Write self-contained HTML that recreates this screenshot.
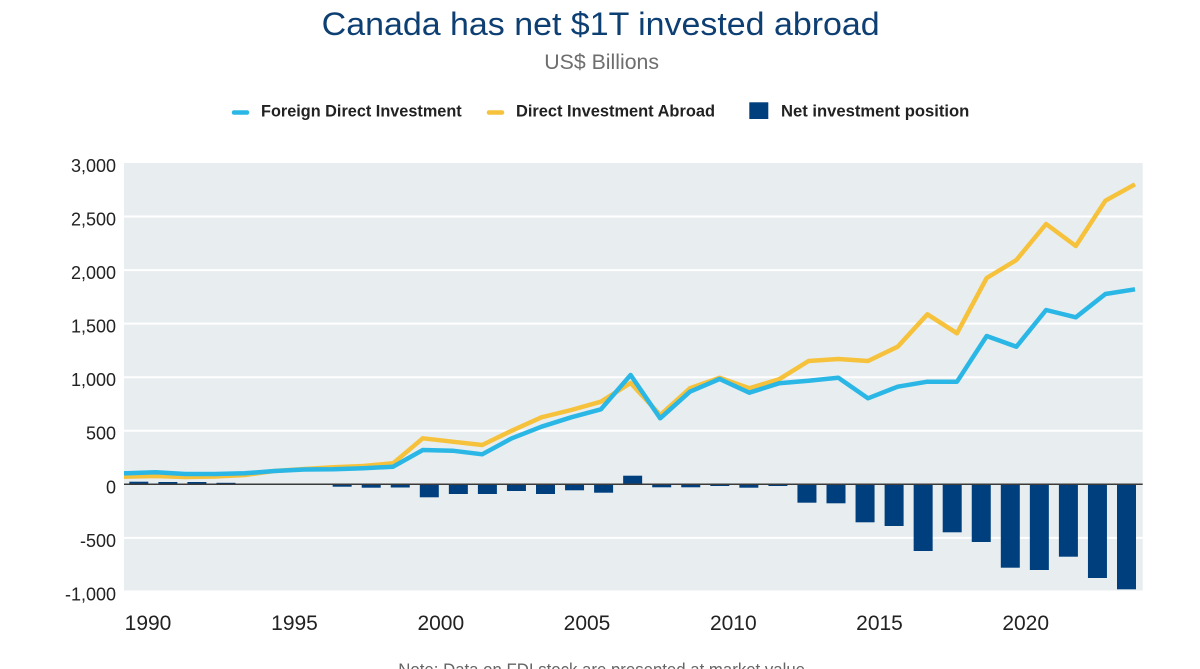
<!DOCTYPE html>
<html>
<head>
<meta charset="utf-8">
<style>
html,body{margin:0;padding:0;background:#fff;}
svg{display:block;}
text{font-family:"Liberation Sans",sans-serif;}
</style>
</head>
<body>
<svg width="1200" height="669" viewBox="0 0 1200 669" xmlns="http://www.w3.org/2000/svg">
  <rect x="0" y="0" width="1200" height="669" fill="#ffffff"/>
  <!-- Title -->
  <text x="321.7" y="35" font-size="32" fill="#0e3f73" textLength="558" lengthAdjust="spacingAndGlyphs">Canada has net $1T invested abroad</text>
  <text x="544.3" y="69" font-size="21" fill="#6e6e6e" textLength="114.7" lengthAdjust="spacingAndGlyphs">US$ Billions</text>

  <!-- Legend -->
  <line x1="234" y1="112.5" x2="247" y2="112.5" stroke="#2bb7e5" stroke-width="4.5" stroke-linecap="round"/>
  <text x="261" y="116.7" font-size="16.5" font-weight="bold" fill="#222" textLength="200.7" lengthAdjust="spacingAndGlyphs">Foreign Direct Investment</text>
  <line x1="489" y1="112.5" x2="502" y2="112.5" stroke="#f6c23c" stroke-width="4.5" stroke-linecap="round"/>
  <text x="516" y="116.7" font-size="16.5" font-weight="bold" fill="#222" textLength="199" lengthAdjust="spacingAndGlyphs">Direct Investment Abroad</text>
  <rect x="749.3" y="102.3" width="19" height="16.7" fill="#003f7d"/>
  <text x="781" y="116.7" font-size="16.5" font-weight="bold" fill="#222" textLength="188.3" lengthAdjust="spacingAndGlyphs">Net investment position</text>

  <!-- Plot area -->
  <rect x="124" y="163" width="1018.7" height="427.5" fill="#e8edf0"/>
  <g stroke="#ffffff" stroke-width="2">
    <line x1="124" y1="216.5" x2="1142.7" y2="216.5"/>
    <line x1="124" y1="270.1" x2="1142.7" y2="270.1"/>
    <line x1="124" y1="323.6" x2="1142.7" y2="323.6"/>
    <line x1="124" y1="377.2" x2="1142.7" y2="377.2"/>
    <line x1="124" y1="430.7" x2="1142.7" y2="430.7"/>
    <line x1="124" y1="537.9" x2="1142.7" y2="537.9"/>
  </g>

  <!-- Bars -->
  <g fill="#003f7d">
    <rect x="129.3" y="481.7" width="19" height="2.6"/>
    <rect x="158.35" y="482" width="19" height="2.3"/>
    <rect x="187.4" y="482" width="19" height="2.3"/>
    <rect x="216.45" y="482.8" width="19" height="1.5"/>
    <rect x="332.65" y="484.3" width="19" height="2.4"/>
    <rect x="361.7" y="484.3" width="19" height="3.4"/>
    <rect x="390.75" y="484.3" width="19" height="3.2"/>
    <rect x="419.8" y="484.3" width="19" height="13"/>
    <rect x="448.85" y="484.3" width="19" height="9.7"/>
    <rect x="477.9" y="484.3" width="19" height="9.7"/>
    <rect x="506.95" y="484.3" width="19" height="6.7"/>
    <rect x="536" y="484.3" width="19" height="9.7"/>
    <rect x="565.05" y="484.3" width="19" height="6"/>
    <rect x="594.1" y="484.3" width="19" height="8.4"/>
    <rect x="623.15" y="475.7" width="19" height="8.6"/>
    <rect x="652.2" y="484.3" width="19" height="3"/>
    <rect x="681.25" y="484.3" width="19" height="3"/>
    <rect x="710.3" y="484.3" width="19" height="1.7"/>
    <rect x="739.35" y="484.3" width="19" height="3.4"/>
    <rect x="768.4" y="484.3" width="19" height="1.7"/>
    <rect x="797.45" y="484.3" width="19" height="18.4"/>
    <rect x="826.5" y="484.3" width="19" height="19"/>
    <rect x="855.55" y="484.3" width="19" height="38"/>
    <rect x="884.6" y="484.3" width="19" height="41.7"/>
    <rect x="913.65" y="484.3" width="19" height="66.7"/>
    <rect x="942.7" y="484.3" width="19" height="48"/>
    <rect x="971.75" y="484.3" width="19" height="57.7"/>
    <rect x="1000.8" y="484.3" width="19" height="83.4"/>
    <rect x="1029.85" y="484.3" width="19" height="85.7"/>
    <rect x="1058.9" y="484.3" width="19" height="72.4"/>
    <rect x="1087.95" y="484.3" width="19" height="93.7"/>
    <rect x="1117" y="484.3" width="19" height="105"/>
  </g>

  <!-- Zero line -->
  <line x1="124" y1="484.3" x2="1142.7" y2="484.3" stroke="#3a3a3a" stroke-width="1.5"/>

  <!-- Yellow line: Direct Investment Abroad -->
  <polyline fill="none" stroke="#f6c23c" stroke-width="4.5" stroke-linejoin="round" stroke-linecap="butt"
    points="124,476.7 126,476.7 155.7,476 185.4,477 215,476.5 244.7,475 274.4,471 304.1,469 333.8,467.3 363.4,466 393.1,463.3 422.8,438.3 452.5,441.7 482.2,445 511.8,430.7 541.5,417.3 571.2,410 600.9,401.7 630.6,383 660.2,415 689.9,388.3 719.6,377.7 749.3,388.3 779,379.3 808.6,361 838.3,359 868,361 897.7,346.7 927.4,314.3 957,333.3 986.7,278 1016.4,260 1046.1,224 1075.8,246 1105.4,200.7 1135,184.3"/>

  <!-- Blue line: Foreign Direct Investment -->
  <polyline fill="none" stroke="#2bb7e5" stroke-width="4.5" stroke-linejoin="round" stroke-linecap="butt"
    points="124,473.3 126,473.3 155.7,472.3 185.4,474 215,474 244.7,473.3 274.4,471 304.1,469.5 333.8,469.3 363.4,468.3 393.1,466.7 422.8,450 452.5,450.7 482.2,454.3 511.8,438.3 541.5,426.7 571.2,417.3 600.9,409.3 630.6,375 660.2,418.3 689.9,391.7 719.6,379 749.3,392.7 779,383.3 808.6,380.7 838.3,377.7 868,398.3 897.7,386.7 927.4,381.7 957,381.7 986.7,336 1016.4,346.7 1046.1,310 1075.8,317.3 1105.4,294 1135,289.3"/>

  <!-- Y axis labels -->
  <g font-size="18" fill="#222" text-anchor="end">
    <text x="116" y="172">3,000</text>
    <text x="116" y="225.5">2,500</text>
    <text x="116" y="279.1">2,000</text>
    <text x="116" y="332.6">1,500</text>
    <text x="116" y="386.2">1,000</text>
    <text x="116" y="439.7">500</text>
    <text x="116" y="493.3">0</text>
    <text x="116" y="546.9">-500</text>
    <text x="116" y="600.4">-1,000</text>
  </g>

  <!-- X axis labels -->
  <g font-size="21" fill="#222" text-anchor="middle">
    <text x="148" y="630">1990</text>
    <text x="294.5" y="630">1995</text>
    <text x="440.8" y="630">2000</text>
    <text x="587" y="630">2005</text>
    <text x="733.3" y="630">2010</text>
    <text x="879.5" y="630">2015</text>
    <text x="1025.7" y="630">2020</text>
  </g>

  <!-- Note (cut off) -->
  <text x="398.3" y="675.5" font-size="17.5" fill="#666" textLength="406.7" lengthAdjust="spacingAndGlyphs">Note: Data on FDI stock are presented at market value</text>
</svg>
</body>
</html>
